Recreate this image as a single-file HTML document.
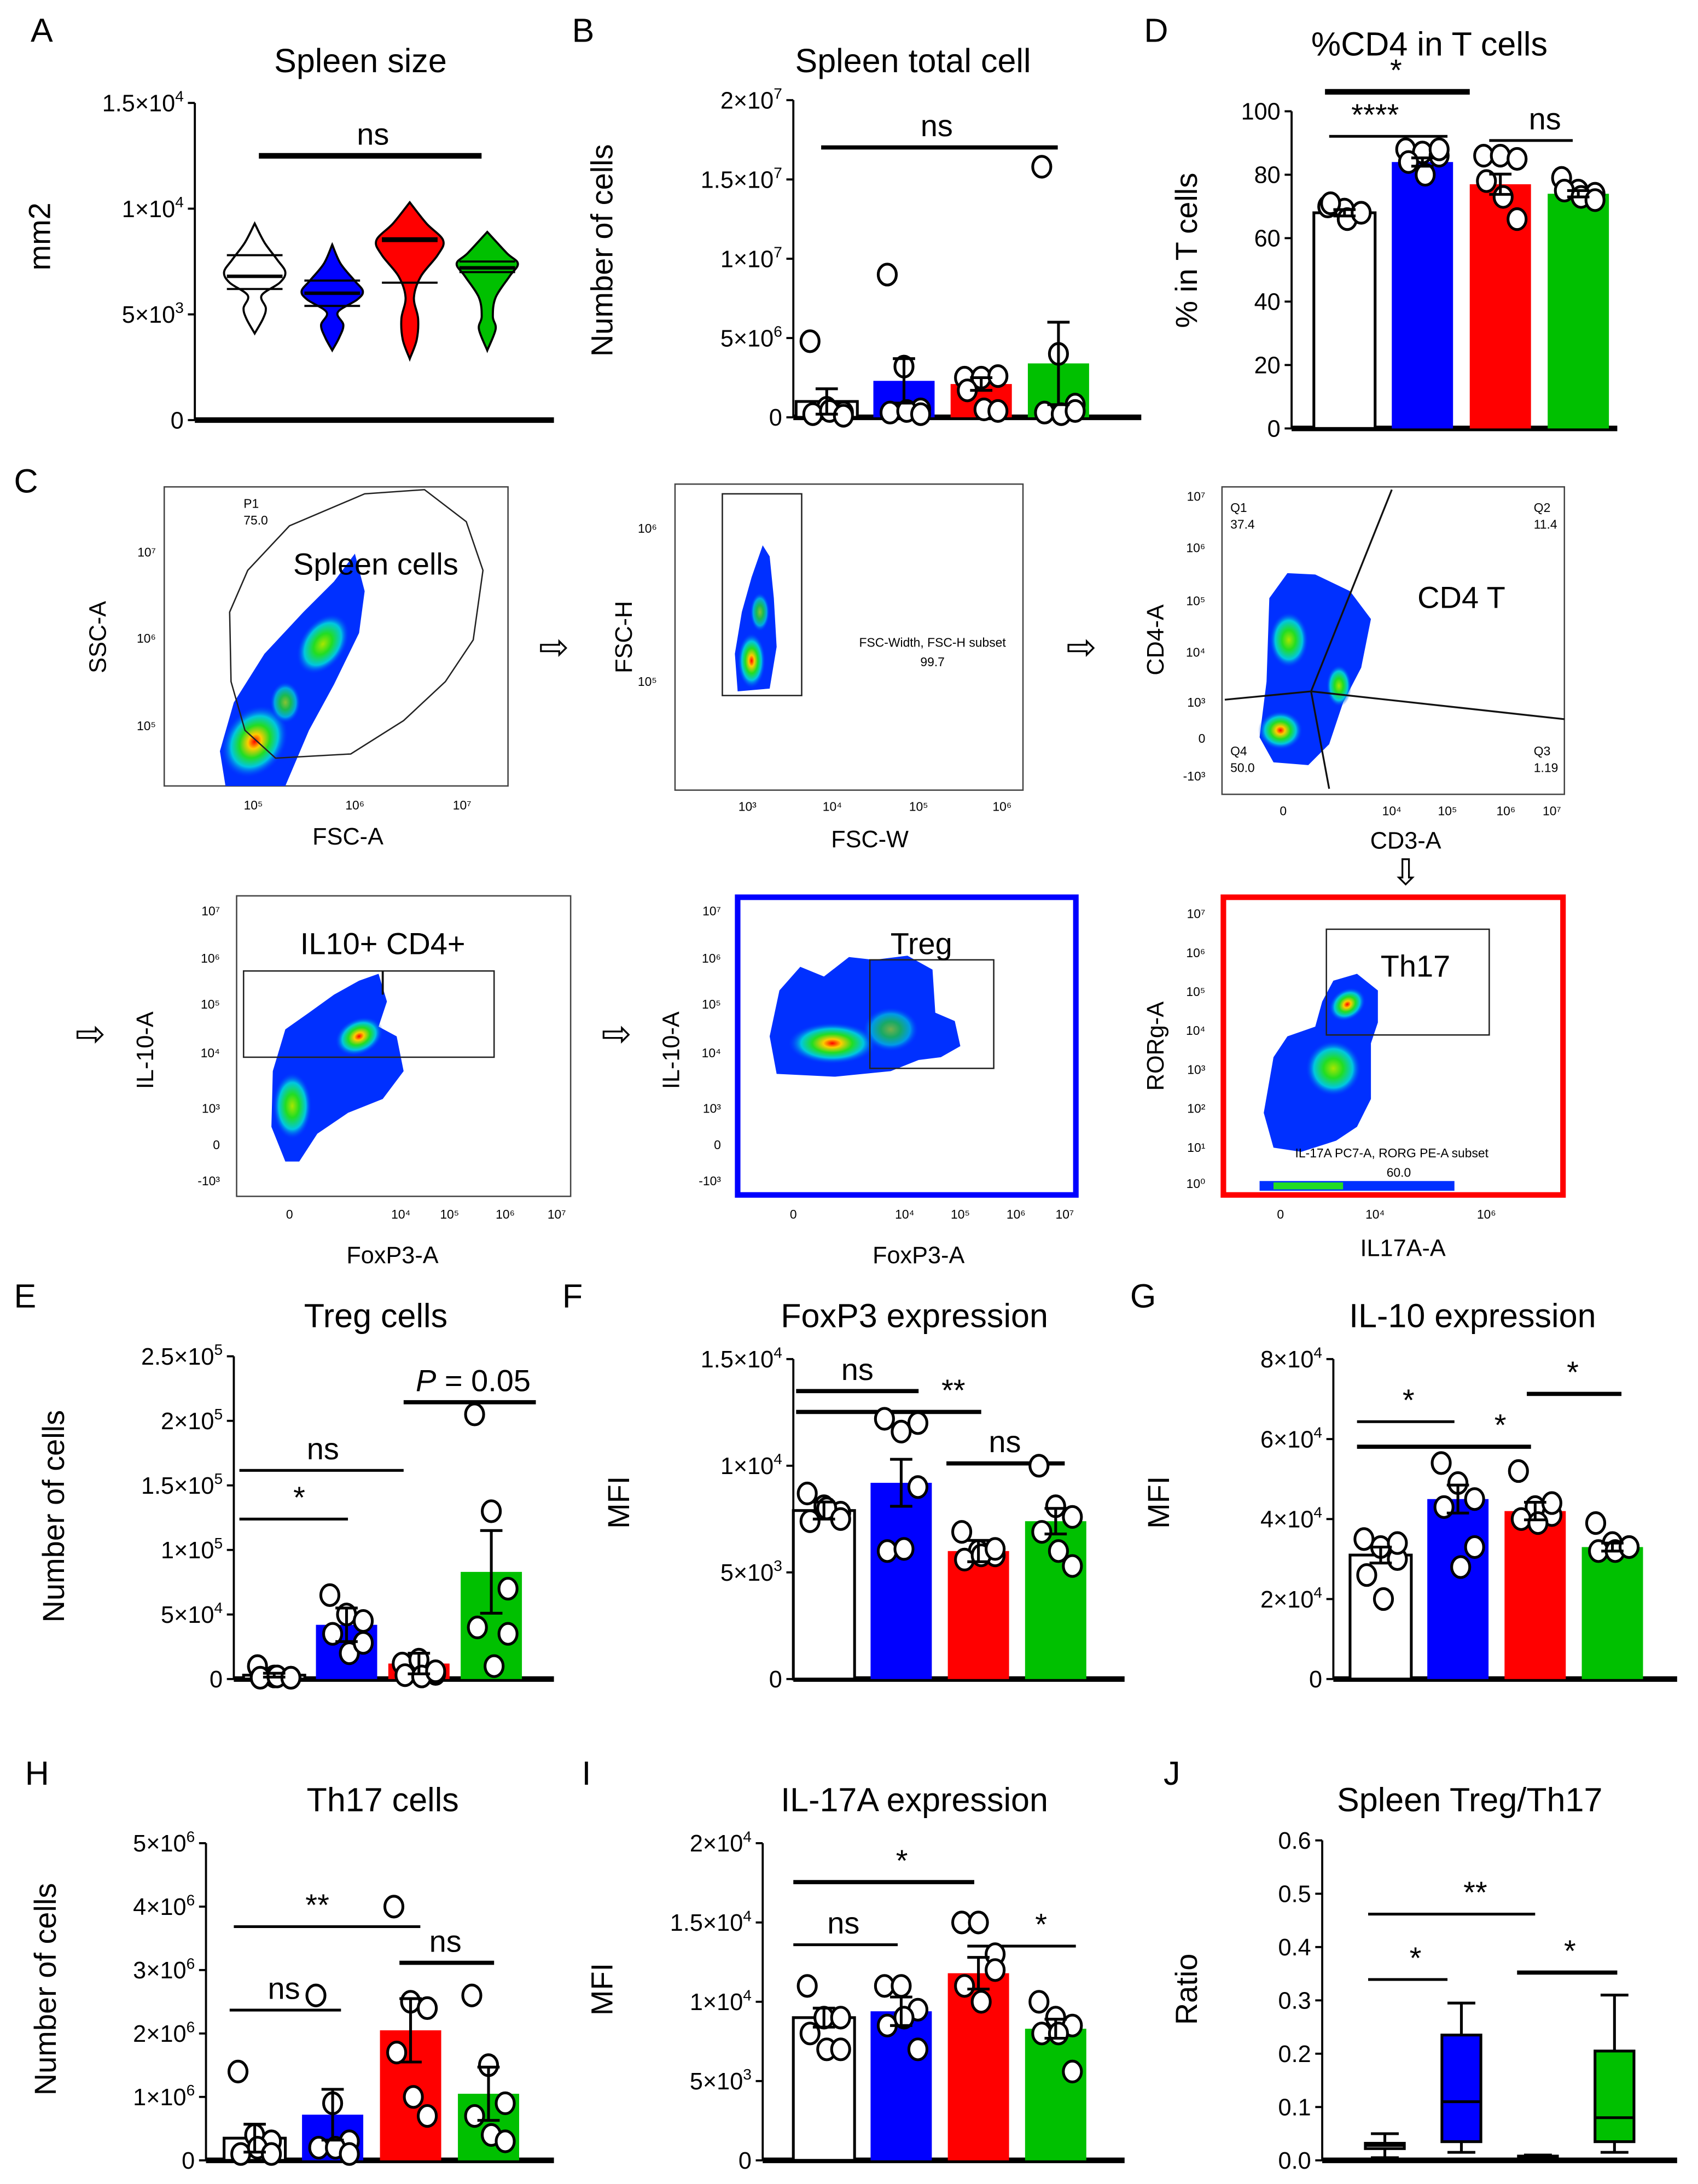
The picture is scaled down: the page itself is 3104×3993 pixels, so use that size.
<!DOCTYPE html>
<html><head><meta charset="utf-8">
<style>
html,body{margin:0;padding:0;background:#fff;}
svg{display:block;font-family:"Liberation Sans",Arial,sans-serif;}
</style></head>
<body>
<svg id="fig" width="3104" height="3993" viewBox="0 0 1220 1570" preserveAspectRatio="none" xmlns="http://www.w3.org/2000/svg">
<defs>
<radialGradient id="hot" cx="50%" cy="50%" r="50%">
<stop offset="0" stop-color="#ff0000"/><stop offset="0.2" stop-color="#ffcc00"/><stop offset="0.45" stop-color="#22dd22"/><stop offset="0.7" stop-color="#00c8e0"/><stop offset="1" stop-color="#0030ff" stop-opacity="0"/>
</radialGradient>
<radialGradient id="warm" cx="50%" cy="50%" r="50%">
<stop offset="0" stop-color="#a8e600"/><stop offset="0.35" stop-color="#22dd22"/><stop offset="0.7" stop-color="#00c8e0"/><stop offset="1" stop-color="#0030ff" stop-opacity="0"/>
</radialGradient>
</defs>
<rect width="1220" height="1570" fill="#fff"/>
<g id="letters" font-size="24" fill="#000">
<text x="22" y="30">A</text><text x="411" y="30">B</text><text x="822" y="30">D</text>
<text x="10" y="354">C</text><text x="10" y="940">E</text><text x="404" y="940">F</text><text x="812" y="940">G</text>
<text x="18" y="1283">H</text><text x="418" y="1283">I</text><text x="836" y="1283">J</text>
</g>

<g id="flow" font-size="9" fill="#000">
 <g>
  <rect x="118" y="350" width="247" height="215" fill="none" stroke="#444" stroke-width="1"/>
  <path d="M162,565 L158,540 L168,505 L190,470 L218,440 L240,418 L255,398 L262,425 L258,455 L240,492 L222,525 L205,565 Z" fill="#0030ff"/>
  <ellipse cx="183" cy="533" rx="22" ry="28" fill="url(#hot)" transform="rotate(35 183 533)"/>
  <ellipse cx="232" cy="463" rx="16" ry="24" fill="url(#warm)" transform="rotate(35 232 463)"/>
  <ellipse cx="205" cy="505" rx="11" ry="15" fill="url(#warm)" opacity="0.8"/>
  <path d="M165,440 L178,410 L208,378 L262,355 L305,352 L335,375 L347,410 L340,460 L320,490 L290,518 L252,542 L198,545 L176,525 L166,490 Z" fill="none" stroke="#222" stroke-width="1"/>
  <text x="175" y="365">P1</text><text x="175" y="377">75.0</text>
  <text x="270" y="413" font-size="22" text-anchor="middle">Spleen cells</text>
  <text x="182" y="582" text-anchor="middle">10⁵</text><text x="255" y="582" text-anchor="middle">10⁶</text><text x="332" y="582" text-anchor="middle">10⁷</text>
  <text x="112" y="400" text-anchor="end">10⁷</text><text x="112" y="462" text-anchor="end">10⁶</text><text x="112" y="525" text-anchor="end">10⁵</text>
  <text x="250" y="607" font-size="17" text-anchor="middle">FSC-A</text>
  <text transform="translate(76,458) rotate(-90)" font-size="17" text-anchor="middle">SSC-A</text>
 </g>
 <text x="398" y="474" font-size="26" text-anchor="middle" font-family="DejaVu Sans">⇨</text>
 <g>
  <rect x="485" y="348" width="250" height="220" fill="none" stroke="#444" stroke-width="1"/>
  <path d="M530,497 L528,470 L533,440 L540,415 L548,392 L553,400 L556,430 L558,465 L553,495 Z" fill="#0030ff"/>
  <ellipse cx="540" cy="475" rx="10" ry="20" fill="url(#hot)"/>
  <ellipse cx="546" cy="440" rx="7" ry="14" fill="url(#warm)" opacity="0.8"/>
  <rect x="519" y="355" width="57" height="145" fill="none" stroke="#222"/>
  <text x="670" y="465" text-anchor="middle">FSC-Width, FSC-H subset</text><text x="670" y="479" text-anchor="middle">99.7</text>
  <text x="472" y="383" text-anchor="end">10⁶</text><text x="472" y="493" text-anchor="end">10⁵</text>
  <text x="537" y="583" text-anchor="middle">10³</text><text x="598" y="583" text-anchor="middle">10⁴</text><text x="660" y="583" text-anchor="middle">10⁵</text><text x="720" y="583" text-anchor="middle">10⁶</text>
  <text x="625" y="609" font-size="17" text-anchor="middle">FSC-W</text>
  <text transform="translate(454,458) rotate(-90)" font-size="17" text-anchor="middle">FSC-H</text>
 </g>
 <text x="777" y="474" font-size="26" text-anchor="middle" font-family="DejaVu Sans">⇨</text>
 <g>
  <rect x="878" y="350" width="246" height="221" fill="none" stroke="#444" stroke-width="1"/>
  <path d="M912,430 L925,412 L945,413 L970,425 L985,445 L978,480 L965,505 L955,535 L940,550 L915,548 L905,530 L910,490 Z" fill="#0030ff"/>
  <ellipse cx="926" cy="460" rx="14" ry="20" fill="url(#warm)"/>
  <ellipse cx="962" cy="493" rx="9" ry="15" fill="url(#warm)"/>
  <ellipse cx="920" cy="525" rx="16" ry="14" fill="url(#hot)"/>
  <polyline points="1000,352 942,497 955,567" fill="none" stroke="#111" stroke-width="1.3"/>
  <polyline points="880,503 942,497 1124,517" fill="none" stroke="#111" stroke-width="1.3"/>
  <text x="884" y="368">Q1</text><text x="884" y="380">37.4</text>
  <text x="1102" y="368">Q2</text><text x="1102" y="380">11.4</text>
  <text x="884" y="543">Q4</text><text x="884" y="555">50.0</text>
  <text x="1102" y="543">Q3</text><text x="1102" y="555">1.19</text>
  <text x="1050" y="437" font-size="22" text-anchor="middle">CD4 T</text>
  <text x="866" y="360" text-anchor="end">10⁷</text><text x="866" y="397" text-anchor="end">10⁶</text><text x="866" y="435" text-anchor="end">10⁵</text><text x="866" y="472" text-anchor="end">10⁴</text><text x="866" y="508" text-anchor="end">10³</text><text x="866" y="534" text-anchor="end">0</text><text x="866" y="561" text-anchor="end">-10³</text>
  <text x="922" y="586" text-anchor="middle">0</text><text x="1000" y="586" text-anchor="middle">10⁴</text><text x="1040" y="586" text-anchor="middle">10⁵</text><text x="1082" y="586" text-anchor="middle">10⁶</text><text x="1115" y="586" text-anchor="middle">10⁷</text>
  <text x="1010" y="610" font-size="17" text-anchor="middle">CD3-A</text>
  <text transform="translate(836,460) rotate(-90)" font-size="17" text-anchor="middle">CD4-A</text>
 </g>
 <text x="1010" y="636" font-size="26" text-anchor="middle" font-family="DejaVu Sans">⇩</text>
 <text x="65" y="752" font-size="26" text-anchor="middle" font-family="DejaVu Sans">⇨</text>
 <g>
  <rect x="170" y="644" width="240" height="216" fill="none" stroke="#444" stroke-width="1"/>
  <path d="M205,835 L195,810 L196,770 L205,740 L222,728 L240,715 L258,705 L272,700 L278,720 L272,738 L285,745 L290,770 L275,790 L250,800 L228,815 L215,835 Z" fill="#0030ff"/>
  <ellipse cx="210" cy="795" rx="14" ry="24" fill="url(#warm)"/>
  <ellipse cx="258" cy="745" rx="18" ry="13" fill="url(#hot)" transform="rotate(-25 258 745)"/>
  <rect x="175" y="698" width="180" height="62" fill="none" stroke="#222"/>
  <line x1="275" y1="698" x2="275" y2="715" stroke="#111" stroke-width="1.5"/>
  <text x="275" y="686" font-size="22" text-anchor="middle">IL10+ CD4+</text>
  <text x="158" y="658" text-anchor="end">10⁷</text><text x="158" y="692" text-anchor="end">10⁶</text><text x="158" y="725" text-anchor="end">10⁵</text><text x="158" y="760" text-anchor="end">10⁴</text><text x="158" y="800" text-anchor="end">10³</text><text x="158" y="826" text-anchor="end">0</text><text x="158" y="852" text-anchor="end">-10³</text>
  <text x="208" y="876" text-anchor="middle">0</text><text x="288" y="876" text-anchor="middle">10⁴</text><text x="323" y="876" text-anchor="middle">10⁵</text><text x="363" y="876" text-anchor="middle">10⁶</text><text x="400" y="876" text-anchor="middle">10⁷</text>
  <text x="282" y="908" font-size="17" text-anchor="middle">FoxP3-A</text>
  <text transform="translate(110,755) rotate(-90)" font-size="17" text-anchor="middle">IL-10-A</text>
 </g>
 <text x="443" y="752" font-size="26" text-anchor="middle" font-family="DejaVu Sans">⇨</text>
 <g>
  <rect x="530" y="645" width="243" height="214" fill="none" stroke="#0000ff" stroke-width="4"/>
  <path d="M558,772 L553,745 L560,712 L575,695 L592,702 L610,688 L628,690 L652,687 L670,697 L672,728 L686,734 L690,752 L676,760 L660,762 L640,770 L600,774 Z" fill="#0030ff"/>
  <ellipse cx="598" cy="750" rx="32" ry="15" fill="url(#hot)"/>
  <ellipse cx="640" cy="740" rx="20" ry="16" fill="url(#warm)" opacity="0.7"/>
  <rect x="625" y="690" width="89" height="78" fill="none" stroke="#222"/>
  <text x="662" y="686" font-size="22" text-anchor="middle">Treg</text>
  <text x="518" y="658" text-anchor="end">10⁷</text><text x="518" y="692" text-anchor="end">10⁶</text><text x="518" y="725" text-anchor="end">10⁵</text><text x="518" y="760" text-anchor="end">10⁴</text><text x="518" y="800" text-anchor="end">10³</text><text x="518" y="826" text-anchor="end">0</text><text x="518" y="852" text-anchor="end">-10³</text>
  <text x="570" y="876" text-anchor="middle">0</text><text x="650" y="876" text-anchor="middle">10⁴</text><text x="690" y="876" text-anchor="middle">10⁵</text><text x="730" y="876" text-anchor="middle">10⁶</text><text x="765" y="876" text-anchor="middle">10⁷</text>
  <text x="660" y="908" font-size="17" text-anchor="middle">FoxP3-A</text>
  <text transform="translate(488,755) rotate(-90)" font-size="17" text-anchor="middle">IL-10-A</text>
 </g>
 <g>
  <rect x="879" y="645" width="244" height="214" fill="none" stroke="#ff0000" stroke-width="4"/>
  <path d="M915,760 L925,745 L945,738 L950,720 L958,705 L975,700 L990,712 L990,735 L985,750 L985,790 L975,810 L960,820 L935,828 L915,825 L908,800 Z" fill="#0030ff"/>
  <ellipse cx="968" cy="722" rx="14" ry="11" fill="url(#hot)" transform="rotate(-35 968 722)"/>
  <ellipse cx="958" cy="768" rx="20" ry="20" fill="url(#warm)"/>
  <rect x="905" y="849" width="140" height="7" fill="#0030ff"/>
  <rect x="915" y="850" width="50" height="5" fill="#22dd22"/>
  <rect x="953" y="668" width="117" height="76" fill="none" stroke="#222"/>
  <text x="1017" y="702" font-size="22" text-anchor="middle">Th17</text>
  <text x="1000" y="832" text-anchor="middle">IL-17A PC7-A, RORG PE-A subset</text><text x="1005" y="846" text-anchor="middle">60.0</text>
  <text x="866" y="660" text-anchor="end">10⁷</text><text x="866" y="688" text-anchor="end">10⁶</text><text x="866" y="716" text-anchor="end">10⁵</text><text x="866" y="744" text-anchor="end">10⁴</text><text x="866" y="772" text-anchor="end">10³</text><text x="866" y="800" text-anchor="end">10²</text><text x="866" y="828" text-anchor="end">10¹</text><text x="866" y="854" text-anchor="end">10⁰</text>
  <text x="920" y="876" text-anchor="middle">0</text><text x="988" y="876" text-anchor="middle">10⁴</text><text x="1068" y="876" text-anchor="middle">10⁶</text>
  <text x="1008" y="903" font-size="17" text-anchor="middle">IL17A-A</text>
  <text transform="translate(836,752) rotate(-90)" font-size="17" text-anchor="middle">RORg-A</text>
 </g>
</g>
<g id="charts"></g>
</svg>
<script>
// ---------- DATA ----------
const groupColors = ['#ffffff','#0000ff','#ff0000','#00c000'];
// A: violin
const aTicks = [0, 5000, 10000, 15000];
const aTickLabels = ['0','5×10^3','1×10^4','1.5×10^4'];
const aViolinVals = [
 [4100,4800,5300,5900,6500,7000,7600,8400,9300],
 [3300,3900,4500,5100,5700,6100,6600,7400,8300],
 [2900,3800,4800,5800,6800,7800,8500,9300,10300],
 [3300,4300,4900,5800,6800,7400,7900,8900]];
const aViolinWidths = [
 [0,6,8,5,18,22,16,7,0],
 [0,5,8,4,18,22,16,6,0],
 [0,5,6,3,8,20,24,12,0],
 [0,6,4,6,16,22,14,0]];
const aQuartiles = [[6200,6800,7800],[5400,6000,6600],[6500,8500,8600],[7000,7200,7500]];
// B
const bTicks=[0,5e6,1e7,1.5e7,2e7];
const bTickLabels=['0','5×10^6','1×10^7','1.5×10^7','2×10^7'];
const bMeans=[1.0e6,2.3e6,2.1e6,3.4e6];
const bSem=[0.8e6,1.4e6,0.4e6,2.6e6];
const bPoints=[[4.8e6,0.6e6,0.3e6,0.2e6,0.4e6,0.1e6],[9e6,3.2e6,0.5e6,0.3e6,0.4e6,0.2e6],[2.5e6,2.5e6,2.6e6,1.7e6,0.5e6,0.4e6],[15.8e6,4e6,0.8e6,0.3e6,0.2e6,0.4e6]];
// D
const dTicks=[0,20,40,60,80,100];
const dTickLabels=['0','20','40','60','80','100'];
const dMeans=[68,84,77,74];
const dSem=[1,1.3,3.2,1];
const dPoints=[[70,69,68,71,66,68],[88,87,86,84,80,88],[86,86,85,78,73,66],[79,75,74,75,73,72]];
// E
const eTicks=[0,5e4,1e5,1.5e5,2e5,2.5e5];
const eTickLabels=['0','5×10^4','1×10^5','1.5×10^5','2×10^5','2.5×10^5'];
const eMeans=[3000,42000,12000,83000];
const eSem=[1500,13000,8000,32000];
const ePoints=[[10000,2000,1000,1000,2000,1000],[65000,50000,45000,35000,20000,28000],[12000,15000,4000,3000,2000,6000],[205000,130000,70000,40000,10000,35000]];
// F
const fTicks=[0,5000,10000,15000];
const fTickLabels=['0','5×10^3','1×10^4','1.5×10^4'];
const fMeans=[7900,9200,6000,7400];
const fSem=[400,1100,500,600];
const fPoints=[[8700,8100,7800,7400,8000,7500],[12200,11600,9000,6000,6100,12000],[6900,6000,5800,5600,5800,6100],[10000,8100,7600,6900,6000,5300]];
// G
const gTicks=[0,20000,40000,60000,80000];
const gTickLabels=['0','2×10^4','4×10^4','6×10^4','8×10^4'];
const gMeans=[31000,45000,42000,33000];
const gSem=[2000,3500,2200,1000];
const gPoints=[[35000,33000,30000,26000,20000,34000],[54000,49000,45000,43000,28000,33000],[52000,43000,41000,40000,39000,44000],[39000,34000,33000,32000,32000,33000]];
// H
const hTicks=[0,1e6,2e6,3e6,4e6,5e6];
const hTickLabels=['0','1×10^6','2×10^6','3×10^6','4×10^6','5×10^6'];
const hMeans=[0.35e6,0.72e6,2.05e6,1.05e6];
const hSem=[0.22e6,0.4e6,0.5e6,0.42e6];
const hPoints=[[1.4e6,0.4e6,0.3e6,0.1e6,0.2e6,0.1e6],[2.6e6,0.9e6,0.3e6,0.2e6,0.2e6,0.1e6],[4.0e6,2.5e6,2.4e6,1.7e6,1.0e6,0.7e6],[2.6e6,1.5e6,0.9e6,0.7e6,0.4e6,0.3e6]];
// I
const iTicks=[0,5000,10000,15000,20000];
const iTickLabels=['0','5×10^3','1×10^4','1.5×10^4','2×10^4'];
const iMeans=[9000,9400,11800,8300];
const iSem=[600,900,1000,600];
const iPoints=[[11000,9000,9000,8000,7000,7000],[11000,11000,9500,8500,9000,7000],[15000,15000,13000,11000,10000,12000],[10000,9000,8500,8000,8000,5600]];
// J: box plots
const jTicks=[0,0.1,0.2,0.3,0.4,0.5,0.6];
const jTickLabels=['0.0','0.1','0.2','0.3','0.4','0.5','0.6'];
const jMin=[0.005,0.015,0.002,0.015];
const jQ1=[0.022,0.035,0.004,0.035];
const jMedian=[0.028,0.11,0.006,0.08];
const jQ3=[0.032,0.235,0.008,0.205];
const jMax=[0.05,0.295,0.01,0.31];

// ---------- HELPERS ----------
const NS='http://www.w3.org/2000/svg';
const root=document.getElementById('charts');
function mk(tag,parent){const e=document.createElementNS(NS,tag);parent.appendChild(e);return e;}
function attr(e,o){for(const k in o)e.setAttribute(k,o[k]);return e;}
function supText(parent,str,x,y,size,anchor){
  const t=mk('text',parent);
  attr(t,{x:x,y:y,'font-size':size,'text-anchor':anchor,fill:'#000'});
  const parts=str.split('^');
  t.appendChild(document.createTextNode(parts[0]));
  if(parts[1]){const s=mk('tspan',t);attr(s,{dy:-7,'font-size':size*0.65});s.textContent=parts[1];}
  return t;
}
function makeAxis(g,cfg,ticks,labels){
  const y=v=>cfg.ybot-(v-ticks[0])/(ticks[ticks.length-1]-ticks[0])*(cfg.ybot-cfg.ytop);
  const ax=mk('line',g);
  attr(ax,{x1:cfg.ax,y1:cfg.ytop,x2:cfg.ax,y2:cfg.ybot,stroke:'#000','stroke-width':1.5});
  
  
  ticks.forEach((v,i)=>{
    const tk=mk('line',g);
    attr(tk,{x1:cfg.ax-5,x2:cfg.ax,y1:y(v),y2:y(v),stroke:'#000','stroke-width':1.5});
    
    
    const lb=supText(g,labels[i],cfg.ax-8,y(v)+6,17,'end');
    
    
  });
  const base=mk('line',g);
  attr(base,{x1:cfg.ax,x2:cfg.xend,y1:cfg.ybot,y2:cfg.ybot,stroke:'#000','stroke-width':4});
  
  
  const tt=mk('text',g);
  attr(tt,{x:cfg.titleX,y:cfg.titleY,'font-size':24,'text-anchor':'middle'});
  tt.textContent=cfg.title;
  
  
  if(cfg.ylabel){
    const yl=mk('text',g);
    attr(yl,{transform:`translate(${cfg.ylabelX},${cfg.ylabelY}) rotate(-90)`,'font-size':22,'text-anchor':'middle'});
    yl.textContent=cfg.ylabel;
    
    
  }
  (cfg.sigs||[]).forEach(s=>{
    const l=mk('line',g);
    attr(l,{x1:s[1],x2:s[2],y1:s[3],y2:s[3],stroke:'#000','stroke-width':s[5]||2});
    
    
    const t=mk('text',g);
    attr(t,{x:s[4],y:s[3]-8,'font-size':22,'text-anchor':'middle'});
    if(s[0]==='P'){const it=mk('tspan',t);it.setAttribute('font-style','italic');it.textContent='P';t.appendChild(document.createTextNode(' = 0.05'));}
    else t.textContent=s[0];
    
    
  });
  return y;
}
const jitter=[-12,0,12,-10,2,12];
function barChart(cfg,ticks,labels,means,sems,points){
  const g=mk('g',root);
  
  
  const y=makeAxis(g,cfg,ticks,labels);
  means.forEach((m,i)=>{
    const cx=cfg.x0+i*cfg.step;
    const b=mk('rect',g);
    attr(b,{x:cx-cfg.bw/2,y:y(m),width:cfg.bw,height:cfg.ybot-y(m),fill:groupColors[i],stroke:'#000','stroke-width':i===0?2:0});
    
    
    points[i].forEach((p,j)=>{
      const c=mk('ellipse',g);
      attr(c,{cx:cx+jitter[j],cy:y(p),rx:6.5,ry:7.5,fill:'#fff',stroke:'#000','stroke-width':2});
      
      
    });
    const e=mk('path',g);
    attr(e,{d:`M${cx},${y(m)} V${y(m+sems[i])} M${cx-8},${y(m+sems[i])} H${cx+8} M${cx-8},${y(m-sems[i])} H${cx+8} M${cx},${y(m)} V${y(m-sems[i])}`,stroke:'#000','stroke-width':2,fill:'none'});
    
    
  });
}
function smoothPath(pts){
  let d=`M${pts[0][0]},${pts[0][1]}`;
  for(let i=0;i<pts.length-1;i++){
    const p0=pts[i-1]||pts[i],p1=pts[i],p2=pts[i+1],p3=pts[i+2]||p2;
    d+=` C${p1[0]+(p2[0]-p0[0])/6},${p1[1]+(p2[1]-p0[1])/6} ${p2[0]-(p3[0]-p1[0])/6},${p2[1]-(p3[1]-p1[1])/6} ${p2[0]},${p2[1]}`;
  }
  return d;
}

// ---------- PANEL A ----------
(function(){
  const cfg={name:'panel-a-spleen-size',ax:140,ytop:74,ybot:302,xend:398,title:'Spleen size',titleX:259,titleY:52,ylabel:'mm2',ylabelX:36,ylabelY:170,
    sigs:[['ns',186,346,112,268,4]]};
  const g=mk('g',root);
  
  
  const y=makeAxis(g,cfg,aTicks,aTickLabels);
  aViolinVals.forEach((vals,i)=>{
    const cx=183+i*55.7;
    const right=vals.map((v,k)=>[cx+aViolinWidths[i][k],y(v)]);
    const left=vals.map((v,k)=>[cx-aViolinWidths[i][k],y(v)]).reverse();
    const p=mk('path',g);
    attr(p,{d:smoothPath(right)+' '+smoothPath(left).replace('M','L')+' Z',fill:groupColors[i],stroke:'#000','stroke-width':1.5});
    
    
    aQuartiles[i].forEach((q,k)=>{
      const l=mk('line',g);
      attr(l,{x1:cx-20,x2:cx+20,y1:y(q),y2:y(q),stroke:'#000','stroke-width':k===1?2.5:1.5});
      
      
    });
  });
})();
barChart({name:'panel-b-spleen-total-cell',ax:570,ytop:72,ybot:300,xend:820,title:'Spleen total cell',titleX:656,titleY:52,ylabel:'Number of cells',ylabelX:440,ylabelY:180,
  x0:594,step:55.5,bw:44,sigs:[['ns',590,760,106,673,3]]},bTicks,bTickLabels,bMeans,bSem,bPoints);
barChart({name:'panel-d-cd4-in-t-cells',ax:928,ytop:80,ybot:308,xend:1162,title:'%CD4 in T cells',titleX:1027,titleY:40,ylabel:'% in T cells',ylabelX:860,ylabelY:180,
  x0:966,step:56,bw:44,sigs:[['*',952,1056,66,1003,4],['****',955,1040,98,988,2],['ns',1070,1130,101,1110,2]]},dTicks,dTickLabels,dMeans,dSem,dPoints);
barChart({name:'panel-e-treg-cells',ax:168,ytop:975,ybot:1207,xend:398,title:'Treg cells',titleX:270,titleY:954,ylabel:'Number of cells',ylabelX:46,ylabelY:1090,
  x0:197,step:52,bw:44,sigs:[['P',290,385,1008,340,3],['ns',172,290,1057,232,2],['*',172,250,1092,215,2]]},eTicks,eTickLabels,eMeans,eSem,ePoints);
barChart({name:'panel-f-foxp3-expression',ax:570,ytop:977,ybot:1207,xend:808,title:'FoxP3 expression',titleX:657,titleY:954,ylabel:'MFI',ylabelX:452,ylabelY:1080,
  x0:592,step:55.5,bw:44,sigs:[['ns',572,660,1000,616,3],['**',572,705,1015,685,3],['ns',680,765,1052,722,3]]},fTicks,fTickLabels,fMeans,fSem,fPoints);
barChart({name:'panel-g-il10-expression',ax:958,ytop:977,ybot:1207,xend:1205,title:'IL-10 expression',titleX:1058,titleY:954,ylabel:'MFI',ylabelX:840,ylabelY:1080,
  x0:992,step:55.5,bw:44,sigs:[['*',975,1045,1022,1012,2],['*',975,1100,1040,1078,3],['*',1097,1165,1002,1130,3]]},gTicks,gTickLabels,gMeans,gSem,gPoints);
barChart({name:'panel-h-th17-cells',ax:148,ytop:1325,ybot:1553,xend:398,title:'Th17 cells',titleX:275,titleY:1302,ylabel:'Number of cells',ylabelX:40,ylabelY:1430,
  x0:183,step:56,bw:44,sigs:[['**',168,302,1385,228,2],['ns',165,245,1445,204,2],['ns',287,355,1411,320,3]]},hTicks,hTickLabels,hMeans,hSem,hPoints);
barChart({name:'panel-i-il17a-expression',ax:548,ytop:1325,ybot:1553,xend:808,title:'IL-17A expression',titleX:657,titleY:1302,ylabel:'MFI',ylabelX:440,ylabelY:1430,
  x0:592,step:55.5,bw:44,sigs:[['*',570,700,1353,648,3],['ns',570,645,1398,606,2],['*',695,773,1399,748,2]]},iTicks,iTickLabels,iMeans,iSem,iPoints);
// ---------- PANEL J ----------
(function(){
  const cfg={name:'panel-j-treg-th17-ratio',ax:950,ytop:1323,ybot:1553,xend:1205,title:'Spleen Treg/Th17',titleX:1056,titleY:1302,ylabel:'Ratio',ylabelX:860,ylabelY:1430,
    sigs:[['**',983,1103,1376,1060,2],['*',983,1040,1423,1017,2],['*',1090,1162,1418,1128,3]]};
  const g=mk('g',root);
  
  
  const y=makeAxis(g,cfg,jTicks,jTickLabels);
  jMedian.forEach((m,i)=>{
    const cx=995+i*55;
    const w=mk('path',g);
    attr(w,{d:`M${cx},${y(jMax[i])} V${y(jMin[i])} M${cx-10},${y(jMax[i])} H${cx+10} M${cx-10},${y(jMin[i])} H${cx+10}`,stroke:'#000','stroke-width':2,fill:'none'});
    
    
    const b=mk('rect',g);
    attr(b,{x:cx-14,y:y(jQ3[i]),width:28,height:Math.max(2,y(jQ1[i])-y(jQ3[i])),fill:groupColors[i],stroke:'#000','stroke-width':2});
    
    
    const md=mk('line',g);
    attr(md,{x1:cx-14,x2:cx+14,y1:y(m),y2:y(m),stroke:'#000','stroke-width':2});
    
    
  });
})();
</script>
</body></html>
